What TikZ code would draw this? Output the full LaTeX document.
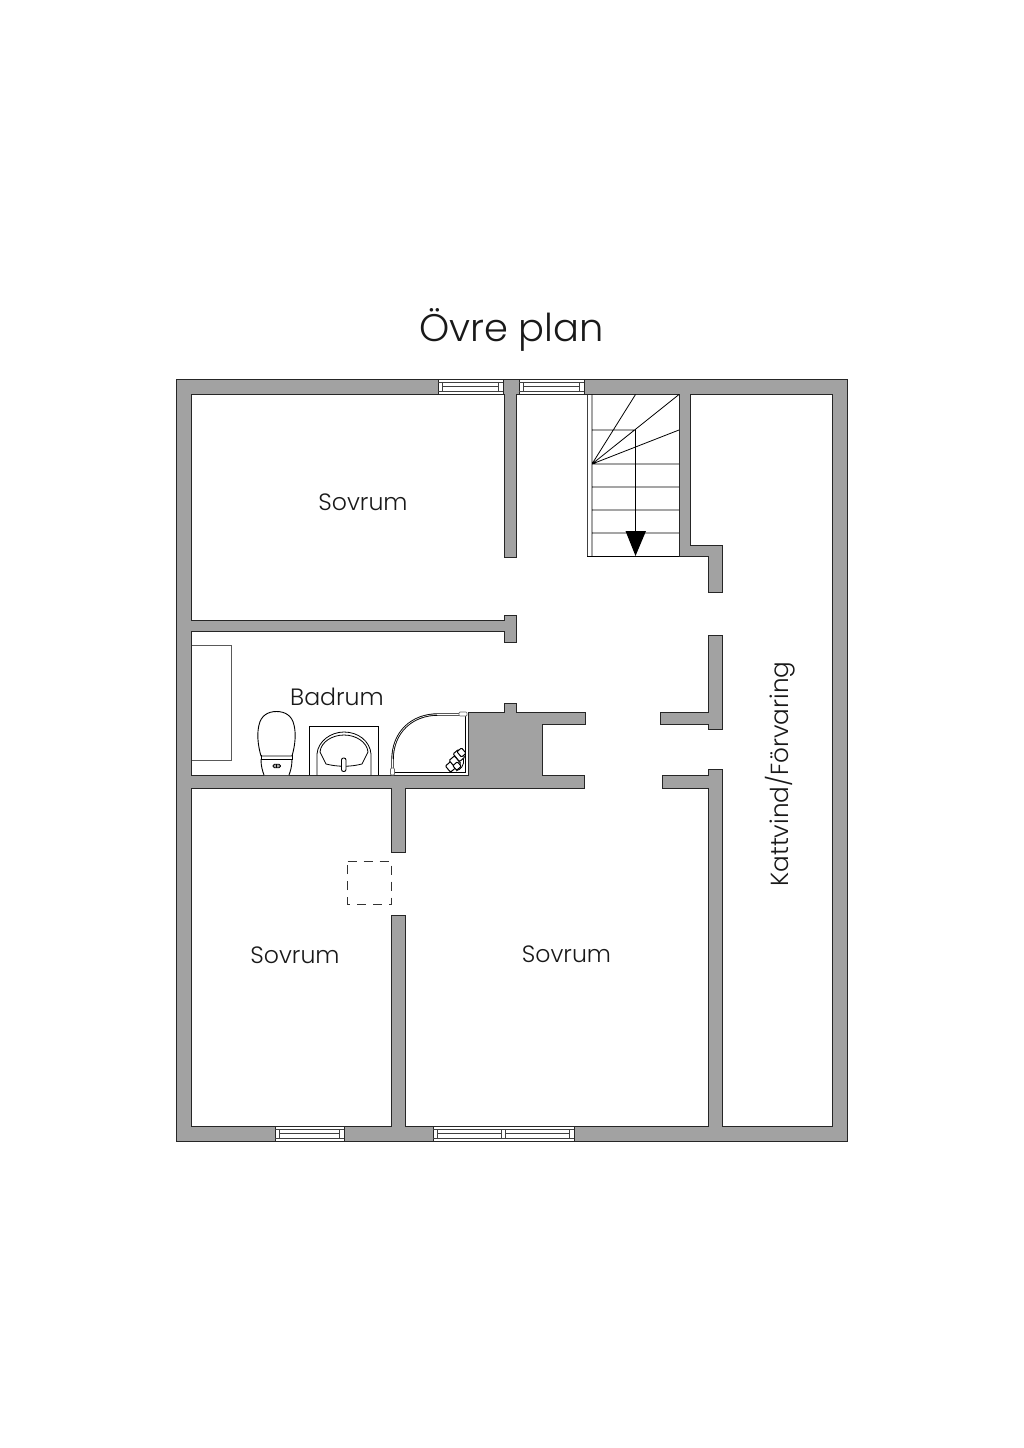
\documentclass[tikz,border=0pt]{standalone}
\usepackage{fontspec}
\setmainfont{Poppins}[UprightFont=* Light]
\definecolor{wallgray}{HTML}{A2A2A2}
\tikzset{
  wall/.style={fill=wallgray,draw=black!85,line width=1pt,even odd rule,line join=miter},
  thinline/.style={draw=black,line width=0.8pt},
  winline/.style={draw=black!75,line width=0.7pt},
  winframe/.style={fill=white,draw=black!85,line width=0.9pt},
  label/.style={font=\fontsize{24}{28}\selectfont,inner sep=0pt,text=black!90},
  fixture/.style={draw=black,line width=0.9pt,fill=white},
}
\newcommand{\winpanes}[4]{% x0 x1 ytop ybottom
  \draw[winframe] (#1,#3) rectangle (#2,#4);
  \draw[winline] (#1,#3+3) -- (#2,#3+3) (#1+4.5,#3+7.5) -- (#2-4.5,#3+7.5) (#1,#3+12) -- (#2,#3+12)
    (#1+4.5,#3+3) -- (#1+4.5,#3+12) (#2-4.5,#3+3) -- (#2-4.5,#3+12);
}
\begin{document}
\begin{tikzpicture}[x=1pt,y=-1pt]
\useasboundingbox (0,0) rectangle (1024,1448);
\fill[white] (0,0) rectangle (1024,1448);
% walls
\path[wall] (176.5,379) rectangle (847.5,1141)
  (191.5,394.5) -- (504,394.5) -- (504,557) -- (516,557) -- (516,394.5) -- (679,394.5) -- (679,556)
  -- (708,556) -- (708,592) -- (722,592) -- (722,545) -- (690,545) -- (690,394.5) -- (832,394.5)
  -- (832,1126) -- (722,1126) -- (722,769) -- (708,769) -- (708,775) -- (662,775) -- (662,788)
  -- (708,788) -- (708,1126) -- (405,1126) -- (405,915) -- (391,915) -- (391,1126) -- (191.5,1126)
  -- (191.5,788) -- (391,788) -- (391,852) -- (405,852) -- (405,788) -- (584,788) -- (584,775)
  -- (542,775) -- (542,724) -- (585,724) -- (585,712) -- (516,712) -- (516,703) -- (504,703)
  -- (504,712) -- (468,712) -- (468,775) -- (191.5,775) -- (191.5,631) -- (504,631) -- (504,642)
  -- (516,642) -- (516,615) -- (504,615) -- (504,620) -- (191.5,620) -- cycle;
\path[wall] (708,635) -- (722,635) -- (722,729) -- (708,729) -- (708,724) -- (660,724) -- (660,712) -- (708,712) -- cycle;
% windows
\winpanes{438}{503}{379}{394.5}
\winpanes{519}{584}{379}{394.5}
\winpanes{275}{344}{1126}{1141}
\winpanes{433}{574}{1126}{1141}
\fill[white] (501,1129.5) rectangle (505,1137.5);
\draw[winline] (501,1129) -- (501,1138) (505,1129) -- (505,1138);
% stairs
\draw[thinline,draw=black!75,line width=1pt] (587,394.5) -- (587,556);
\draw[thinline,line width=0.9pt] (587,556) -- (679,556);
\draw[thinline] (592,394.5) -- (592,556)
  (592,464) -- (679,464) (592,487) -- (679,487) (592,510) -- (679,510) (592,533) -- (679,533)
  (592,430) -- (635.5,430) -- (635.5,535)
  (592,464) -- (635.5,394.5) (592,464) -- (679,394.5) (592,464) -- (679,430);
\fill[black] (625.5,531) -- (646,531) -- (635.5,556) -- cycle;
% tub
\draw[draw=black!65,line width=1pt] (191.5,645.5) -- (231,645.5) -- (231,760.5) -- (191.5,760.5);
% toilet
\draw[fixture] (264,775) .. controls (262.5,771) and (261,766) .. (261,759.5) -- (292,759.5)
   .. controls (292,766) and (290.5,771) .. (289,775);
\draw[fixture] (261,756) .. controls (257.5,744) and (257,733) .. (259,725)
   .. controls (261,715.5) and (268,711.5) .. (276.5,711.5)
   .. controls (285,711.5) and (292,715.5) .. (294,725)
   .. controls (296,733) and (295.5,744) .. (292,756) -- cycle;
\draw[thinline] (261,755) -- (261,760) (292,755) -- (292,760);
\draw[thinline,fill=black!35,rounded corners=1.5pt] (273,764.3) rectangle (280.5,767.7);
\draw[thinline] (276.7,764.3) -- (276.7,767.7);
% sink
\draw[thinline] (309,775) -- (309,726) -- (378,726) -- (378,775);
\draw[thinline] (317,775) -- (317,754) .. controls (318,741) and (331,732) .. (344,732)
  .. controls (358,732) and (370,741) .. (371,754) -- (371,775);
\draw[thinline] (320,752) .. controls (321,742) and (332,735) .. (344,735)
  .. controls (356,735) and (367,742) .. (368,752)
  -- (362,764) .. controls (350,767) and (338,767) .. (326,764) -- cycle;
\draw[fixture,rounded corners=2pt] (341.5,758) rectangle (346,771.5);
% shower
\draw[line width=1pt] (393,772.5) -- (465.5,772.5) -- (465.5,714);
\draw[line width=2.4pt] (392.5,771) -- (392.5,760) .. controls (392.5,732) and (412,714.5) .. (438,714.5) -- (462,714.5);
\draw[line width=0.6pt,white] (392.5,771) -- (392.5,760) .. controls (392.5,732) and (412,714.5) .. (438,714.5) -- (462,714.5);
\draw[fixture,draw=black!60,line width=0.7pt,rounded corners=1pt] (390.5,768) rectangle (394.5,775);
\draw[fixture,draw=black!60,line width=0.7pt,rounded corners=1pt] (459,712) rectangle (467,716);
\foreach \xc/\yc/\wa/\ha in {451/766.5/4/4,455/762/5/3.5,459/755.5/5/3.5,461.5/752.5/3.5/3,457/766/3/3}{
  \draw[fixture,line width=1pt,rounded corners=1pt,rotate around={-50:(\xc,\yc)}] (\xc-\wa,\yc-\ha) rectangle (\xc+\wa,\yc+\ha);
}
\draw[line width=0.8pt] (463.5,759) .. controls (464.5,765) and (461,769.5) .. (456,771);
% hatch
\draw[draw=black!80,line width=0.9pt,dash pattern=on 9pt off 7pt] (347.5,861) -- (391,861) -- (391,904) -- (347.5,904) -- cycle;
% labels
\node[label,font=\fontsize{38.4}{44}\selectfont] (title) at (511.5,329.5) {Övre plan};
\node[label,font=\fontsize{23.6}{28}\selectfont] (s1) at (363,502.5) {Sovrum};
\node[label,font=\fontsize{23.6}{28}\selectfont] (s2) at (295,955.5) {Sovrum};
\node[label,font=\fontsize{23.6}{28}\selectfont] (s3) at (566.5,954.5) {Sovrum};
\node[label,font=\fontsize{23.6}{28}\selectfont] (bad) at (337,697) {Badrum};
\node[label,rotate=90,font=\fontsize{24.7}{28}\selectfont] (katt) at (780,774) {Kattvind/Förvaring};
\end{tikzpicture}
\end{document}
